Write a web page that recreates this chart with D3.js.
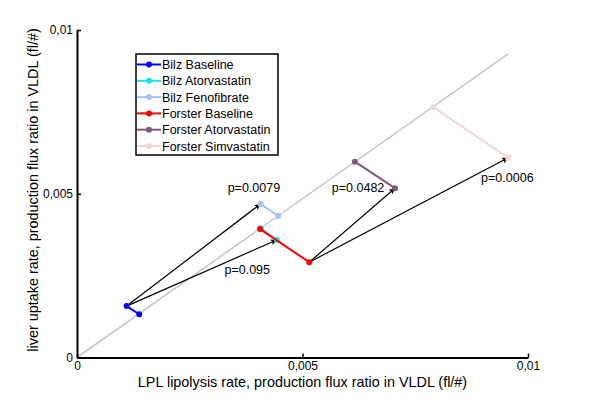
<!DOCTYPE html>
<html>
<head>
<meta charset="utf-8">
<script src="https://cdn.jsdelivr.net/npm/d3@7"></script>
<style>
    body { margin: 0; background: #fff; }
    svg { font-family: Arial, "Liberation Sans", sans-serif; }
</style>
</head>
<body>
<div id="chart"></div>
<script>
// series names, in legend order
const groups = ["Bilz Baseline", "Bilz Atorvastatin", "Bilz Fenofibrate",
                "Forster Baseline", "Forster Atorvastatin", "Forster Simvastatin"];
const colors = ["#0000ff", "#14e6e6", "#a9bff8", "#ff0000", "#7d5b7c", "#efd5d5"];

// measured point (x = lipolysis, y = uptake)
const lipolysis = [0.00110, 0.00443, 0.00407, 0.00515, 0.00705, 0.00956];
const uptake    = [0.00157, 0.00359, 0.00469, 0.00291, 0.00517, 0.00610];
// the same point moved onto the diagonal
const diagX = [0.00138, 0.00407, 0.00446, 0.00406, 0.00616, 0.00790];
const diagY = [0.00132, 0.00395, 0.00432, 0.00392, 0.00598, 0.00764];

// diagonal reference line
const diagLine = [[0, 0], [0.00956, 0.00927]];

// arrows from baseline to treatment
const arrows = [[0, 2], [0, 1], [3, 4], [3, 5]];

// p-values: text, left x, baseline y
const pText = ["p=0.0079", "p=0.095", "p=0.0482", "p=0.0006"];
const pX = [0.00334, 0.00327, 0.00565, 0.00896];
const pY = [0.00506, 0.00255, 0.00506, 0.00537];

const tickValues = [0, 0.005, 0.01];

const width = 600, height = 403;
const svg = d3.select("#chart").append("svg")
    .attr("width", width)
    .attr("height", height);

const x = d3.scaleLinear().domain([0, 0.01]).range([77, 528]);
const y = d3.scaleLinear().domain([0, 0.01]).range([357.5, 30]);

const fmt = d => String(d).replace(".", ",");

// arrow head
svg.append("defs").append("marker")
    .attr("id", "head")
    .attr("markerUnits", "userSpaceOnUse")
    .attr("viewBox", "0 0 10 10")
    .attr("refX", 10).attr("refY", 5)
    .attr("markerWidth", 10).attr("markerHeight", 6)
    .attr("orient", "auto")
    .append("path")
    .attr("d", "M0,0 L10,5 L0,10 L2,5 Z")
    .attr("fill", "#000");

// diagonal
svg.append("line")
    .attr("x1", x(diagLine[0][0])).attr("y1", y(diagLine[0][1]))
    .attr("x2", x(diagLine[1][0])).attr("y2", y(diagLine[1][1]))
    .attr("stroke", "#c8c8c8")
    .attr("stroke-width", 1.6);

// arrows
svg.selectAll(".arrow")
    .data(arrows)
    .enter().append("line")
    .attr("class", "arrow")
    .attr("x1", d => x(lipolysis[d[0]]))
    .attr("y1", d => y(uptake[d[0]]))
    .attr("x2", d => x(lipolysis[d[1]]))
    .attr("y2", d => y(uptake[d[1]]))
    .attr("stroke", "#000")
    .attr("stroke-width", 1.2)
    .attr("marker-end", "url(#head)");

// group segments + markers
groups.forEach(function (g, i) {
    svg.append("line")
        .attr("x1", x(lipolysis[i])).attr("y1", y(uptake[i]))
        .attr("x2", x(diagX[i])).attr("y2", y(diagY[i]))
        .attr("stroke", colors[i])
        .attr("stroke-width", 2);

    svg.append("circle")
        .attr("cx", x(lipolysis[i])).attr("cy", y(uptake[i]))
        .attr("r", 3)
        .attr("fill", colors[i]);

    svg.append("circle")
        .attr("cx", x(diagX[i])).attr("cy", y(diagY[i]))
        .attr("r", 3)
        .attr("fill", colors[i]);
});

// p-value labels
svg.selectAll(".plabel")
    .data(pText)
    .enter().append("text")
    .attr("class", "plabel")
    .attr("x", (d, i) => x(pX[i]))
    .attr("y", (d, i) => y(pY[i]))
    .style("font-size", "12.5px")
    .text(d => d);

// axes
const xAxis = svg.append("g")
    .attr("transform", `translate(0,${y(0)})`)
    .call(d3.axisBottom(x).tickValues(tickValues).tickFormat(fmt)
        .tickSize(-4).tickSizeOuter(0).tickPadding(3.5));

const yAxis = svg.append("g")
    .attr("transform", `translate(${x(0)},0)`)
    .call(d3.axisLeft(y).tickValues(tickValues).tickFormat(fmt)
        .tickSize(-4).tickSizeOuter(0).tickPadding(4));

[xAxis, yAxis].forEach(function (a) {
    a.select(".domain").attr("stroke", "#000").attr("stroke-width", 2);
    a.selectAll(".tick line").attr("stroke", "#000").attr("stroke-width", 1.5);
    a.selectAll(".tick text")
        .attr("fill", "#000")
        .style("font-family", "Arial, 'Liberation Sans', sans-serif")
        .style("font-size", "12px");
});

svg.append("text")
    .attr("x", 302.5)
    .attr("y", 386.5)
    .attr("text-anchor", "middle")
    .style("font-size", "14.4px")
    .text("LPL lipolysis rate, production flux ratio in VLDL (fl/#)");

svg.append("text")
    .attr("transform", "translate(38,190) rotate(-90)")
    .attr("text-anchor", "middle")
    .style("font-size", "14.4px")
    .text("liver uptake rate, production flux ratio in VLDL (fl/#)");

// legend
const legend = svg.append("g").attr("transform", "translate(136,54)");
legend.append("rect")
    .attr("width", 142)
    .attr("height", 101)
    .attr("fill", "#fff")
    .attr("stroke", "#000")
    .attr("stroke-width", 1.5);

const rows = legend.selectAll(".row")
    .data(groups)
    .enter().append("g")
    .attr("class", "row")
    .attr("transform", (d, i) => `translate(0,${10.5 + i * 16.3})`);

rows.append("line")
    .attr("x1", 1).attr("x2", 25)
    .attr("stroke", (d, i) => colors[i])
    .attr("stroke-width", 2);

rows.append("circle")
    .attr("cx", 13).attr("r", 3)
    .attr("fill", (d, i) => colors[i]);

rows.append("text")
    .attr("x", 26)
    .attr("y", 4.5)
    .style("font-size", "12.5px")
    .text(d => d);
</script>
</body>
</html>
